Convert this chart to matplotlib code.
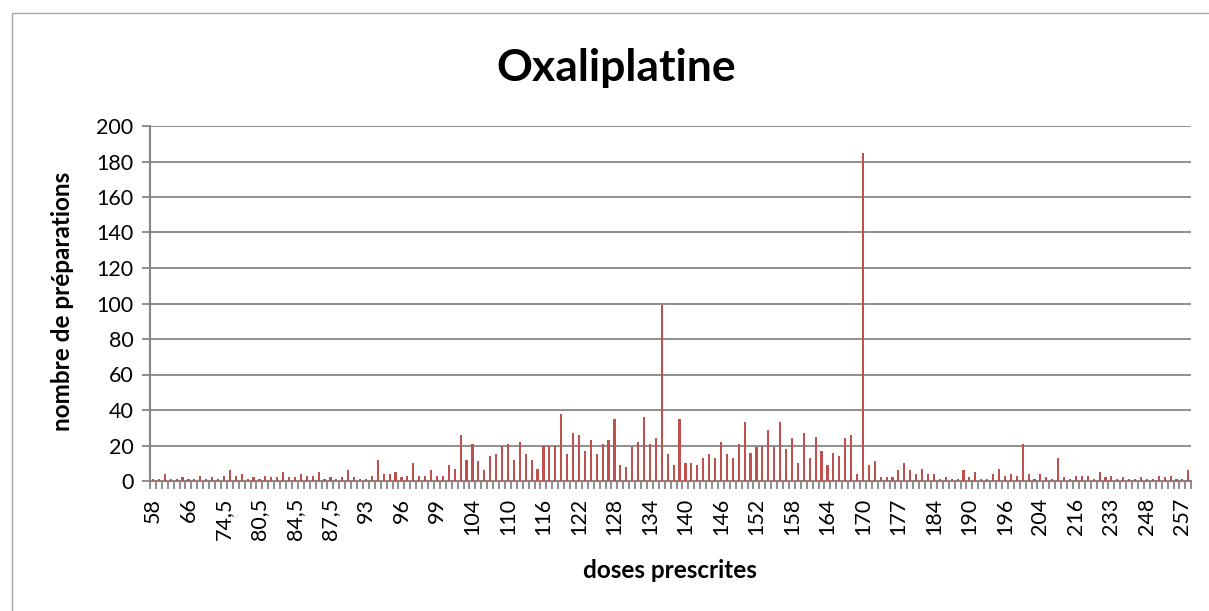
import numpy as np
import matplotlib.pyplot as plt
from matplotlib.patches import Rectangle

# nombre de préparations par dose (une barre par dose prescrite)
preparations = [
    1, 1, 4, 1, 1, 2, 1, 1, 3, 1, 2, 1, 3, 6, 3, 4, 1, 2, 1, 3, 2, 2, 5, 2, 2,
    4, 3, 3, 5, 1, 2, 1, 2, 6, 2, 1, 1, 3, 12, 4, 4, 5, 2, 3, 10, 3, 3, 6, 3, 3,
    9, 7, 26, 12, 21, 11, 6, 14, 15, 20, 21, 12, 22, 15, 12, 7, 20, 20, 20, 38,
    15, 27, 26, 17, 23,
    15, 21, 23, 35, 9, 8, 19, 22, 36, 21, 24, 99, 15, 9, 35, 10, 10, 9, 13, 15,
    13, 22, 15, 13, 21, 33,
    16, 19, 20, 29, 19, 33, 18, 24, 10, 27, 13, 25, 17, 9, 16, 14, 24, 26, 4,
    185, 9, 11, 2, 2, 2,
    6, 10, 6, 4, 7, 4, 4, 1, 2, 1, 1, 6, 2, 5, 1, 1, 4, 7, 3, 4, 3, 21, 4, 1, 4,
    2, 1, 13, 2, 1, 3, 3, 3, 1, 5, 2, 3, 1, 2, 1, 1, 2, 1, 1, 3, 2, 3, 1, 1, 6,
]

# étiquettes affichées (une dose sur six)
etiquettes = ["58", "66", "74,5", "80,5", "84,5", "87,5", "93", "96", "99",
              "104", "110", "116", "122", "128", "134", "140", "146", "152",
              "158", "164", "170", "177", "184", "190", "196", "204", "216",
              "233", "248", "257"]
pas_etiquettes = 6

plt.rcParams['font.family'] = ['Lato', 'DejaVu Sans']

fig = plt.figure(figsize=(12.09, 6.11), dpi=100)
ax = fig.add_axes([150 / 1209, 1 - 481 / 611, (1191.3 - 150) / 1209, (481 - 126) / 611])

x = np.arange(len(preparations))
ax.bar(x, preparations, width=0.36, color='#C0504D', zorder=3)

ax.set_xlim(-0.5, len(preparations) - 0.5)
ax.set_ylim(0, 200)
ax.set_yticks(np.arange(0, 201, 20))
ax.yaxis.grid(True, color='#868686', linewidth=1.3, zorder=0)

ax.set_xticks(x[::pas_etiquettes], labels=etiquettes, rotation=90)
ax.set_xticks(np.arange(-0.5, len(preparations), 1), minor=True)
ax.tick_params(axis='x', which='major', length=0, pad=12, labelsize=15.5)
ax.tick_params(axis='x', which='minor', length=6, width=1.3, color='#868686')
ax.tick_params(axis='y', length=6, width=1.3, color='#868686', labelsize=15.5, pad=6)

for cote in ['top', 'right']:
    ax.spines[cote].set_visible(False)
for cote in ['left', 'bottom']:
    ax.spines[cote].set_color('#868686')
    ax.spines[cote].set_linewidth(1.5)

fig.text(616 / 1209, 1 - 68 / 611, "Oxaliplatine", ha='center', va='center',
         fontsize=32, fontweight='bold')
fig.text(670 / 1209, 1 - 571 / 611, "doses prescrites", ha='center', va='center',
         fontsize=17.5, fontweight='bold')
fig.text(62 / 1209, 1 - 301 / 611, "nombre de préparations", ha='center', va='center',
         rotation=90, fontsize=17.5, fontweight='bold')

# cadre du graphique
fig.patches.append(Rectangle((12 / 1209, -0.1), 1.2, 1 - 13 / 611 + 0.1,
                             transform=fig.transFigure, fill=False,
                             edgecolor='#A6A6A6', linewidth=1))

plt.savefig('out.png', dpi=100)
